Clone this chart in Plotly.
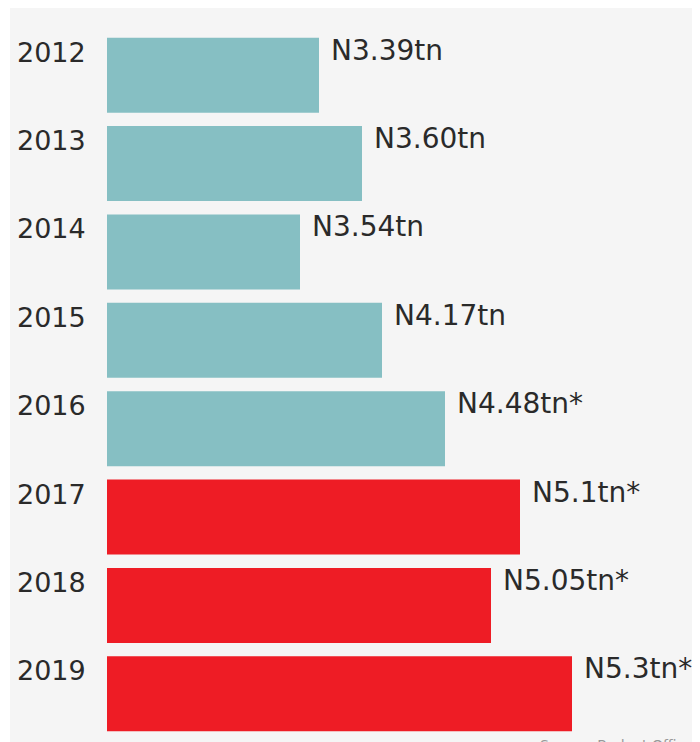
import plotly.graph_objects as go

years = ["2012", "2013", "2014", "2015", "2016", "2017", "2018", "2019"]
bar_lengths = [2.12, 2.55, 1.93, 2.75, 3.38, 4.13, 3.84, 4.65]
value_labels = ["N3.39tn", "N3.60tn", "N3.54tn", "N4.17tn", "N4.48tn*", "N5.1tn*", "N5.05tn*", "N5.3tn*"]
teal = "#86bfc3"
red = "#ee1c25"
colors = [teal] * 5 + [red] * 3
pos = list(range(len(years)))

fig = go.Figure(go.Bar(
    x=bar_lengths, y=pos, orientation="h", width=0.85,
    marker=dict(color=colors, line=dict(width=0)),
    hoverinfo="skip",
))

font_fam = "DejaVu Sans, Inter, sans-serif"
annotations = []
for i, (yr, v, lab) in enumerate(zip(years, bar_lengths, value_labels)):
    annotations.append(dict(x=v, y=i, xref="x", yref="y", text=lab, showarrow=False,
                            xanchor="left", yanchor="middle", xshift=10, yshift=25,
                            font=dict(family=font_fam, size=28, color="#2a2a2a")))
    annotations.append(dict(x=0, y=i, xref="x", yref="y", text=yr, showarrow=False,
                            xanchor="right", yanchor="middle", xshift=-19, yshift=23,
                            font=dict(family=font_fam, size=27, color="#2a2a2a")))

# page has an 8px offset; coordinates below are in figure pixels
W, H = 700, 742
L, T, B = 99, 23.4, 12.3
pw = W - L
ph = H - T - B
def px_x(p):
    return (p - L) / pw
def px_y(p):
    return (H - B - p) / ph

annotations.append(dict(x=px_x(530), y=px_y(727), xref="paper", yref="paper",
                        text="Source: Budget Office", showarrow=False,
                        xanchor="left", yanchor="top",
                        font=dict(family=font_fam, size=14, color="#999999")))

fig.update_layout(
    width=W, height=H,
    margin=dict(l=L, r=0, t=T, b=B, pad=0),
    paper_bgcolor="#ffffff",
    plot_bgcolor="#f5f5f5",
    showlegend=False,
    xaxis=dict(range=[0, pw / 100], visible=False, fixedrange=True),
    yaxis=dict(range=[len(years) - 0.5, -0.5], visible=False, fixedrange=True),
    annotations=annotations,
    shapes=[dict(type="rect", xref="paper", yref="paper", layer="below",
                 x0=px_x(2), x1=px_x(W + 5), y0=px_y(H + 5), y1=px_y(0),
                 fillcolor="#f5f5f5", line=dict(width=0))],
)

fig.write_html("out.html")
